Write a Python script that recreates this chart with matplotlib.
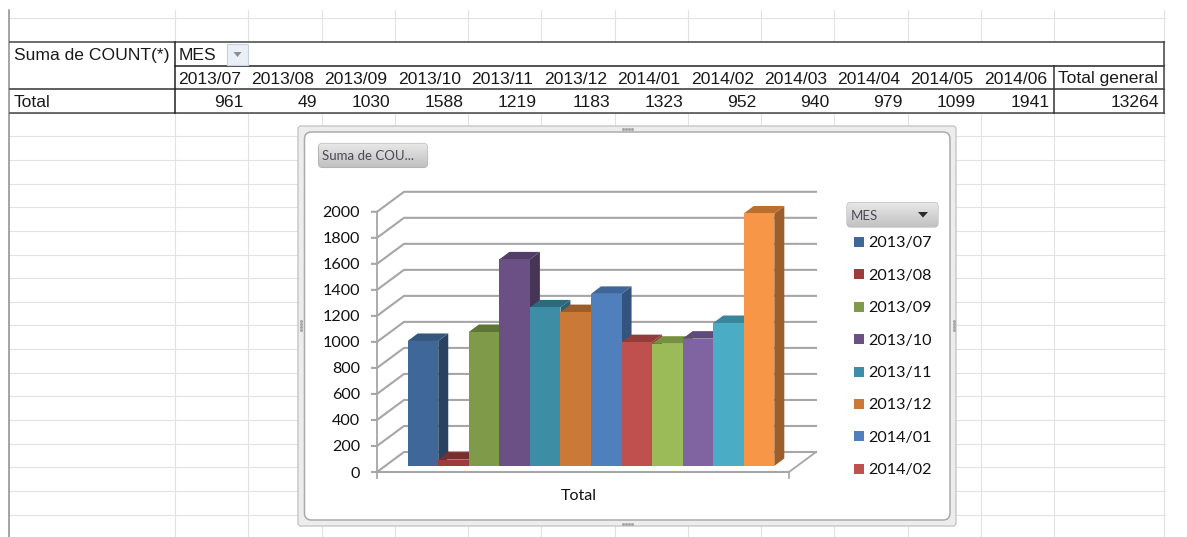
import numpy as np
import matplotlib
matplotlib.use("Agg")
import matplotlib.pyplot as plt
from matplotlib.patches import FancyBboxPatch, Rectangle, Polygon

W, H = 1187, 537

months = ["2013/07", "2013/08", "2013/09", "2013/10", "2013/11", "2013/12",
          "2014/01", "2014/02", "2014/03", "2014/04", "2014/05", "2014/06"]
counts = [961, 49, 1030, 1588, 1219, 1183, 1323, 952, 940, 979, 1099, 1941]
grand_total = 13264
yticks = [0, 200, 400, 600, 800, 1000, 1200, 1400, 1600, 1800, 2000]

front_colors = ["#3F6797", "#9C3D3B", "#7F9A48", "#6A5084", "#3C8DA5", "#CA7A36",
                "#4F7FBD", "#C0504D", "#9BBB59", "#8064A2", "#4BACC6", "#F79646"]
side_colors = ["#2A4261", "#6E2B29", "#586B32", "#453557", "#2A6273", "#8D5526",
               "#33547C", "#863836", "#6C823E", "#594671", "#34778A", "#9C5E2A"]
top_colors = ["#34577F", "#772F2D", "#5F7536", "#523E66", "#2C6A7C", "#9B5D29",
              "#3E669A", "#923D3B", "#76903F", "#5F4B7A", "#39859A", "#B87030"]
legend_count = 8

fig = plt.figure(figsize=(W / 100, H / 100), dpi=100, facecolor="white")

# sheet background works in pixels
bg = fig.add_axes([0, 0, 1, 1])
bg.set_xlim(0, W)
bg.set_ylim(H, 0)
bg.axis("off")

col_x = [175 + 73.25 * i for i in range(13)] + [1163.5]
row_y = [18 + 23.65 * i for i in range(22)]
GRID = "#e2e2e2"
for x in col_x:
    bg.plot([x, x], [10, H], color=GRID, lw=0.8, zorder=1)
for y in row_y:
    bg.plot([9, 1165], [y, y], color=GRID, lw=0.8, zorder=1)
bg.plot([9, 9], [10, H], color="#8c8c8c", lw=1.1, zorder=1)

# pivot table
tab_left, tab_right = 10, 1163.5
tab_y = [42, 66, 89, 113]
bg.add_patch(Rectangle((tab_left, 42), tab_right - tab_left, 71, fc="white", ec="none", zorder=2))
for y, c in zip(tab_y, ["#444444", "#222222", "#333333", "#444444"]):
    x0 = 175 if y == 66 else tab_left
    bg.plot([x0, tab_right], [y, y], color=c, lw=1.1, zorder=3)
bg.plot([175, 175], [42, 113], color="#222222", lw=1.1, zorder=3)
bg.plot([col_x[12], col_x[12]], [66, 113], color="#333333", lw=1.1, zorder=3)
bg.plot([tab_right, tab_right], [42, 113], color="#444444", lw=1.1, zorder=3)

tkw = dict(family="Liberation Sans", fontsize=12.6, color="#1a1a1a", va="center", zorder=4)
bg.text(14, 55.5, "Suma de COUNT(*)", **tkw)
bg.text(179, 55.5, "MES", **tkw)
bg.text(14, 102.5, "Total", **tkw)
for i, (m, c) in enumerate(zip(months, counts)):
    bg.text(col_x[i] + 3, 79, m, **tkw)
    bg.text(col_x[i + 1] - 4.5, 102.5, str(c), ha="right", **tkw)
bg.text(1058, 79, "Total general", **tkw)
bg.text(1159, 102.5, str(grand_total), ha="right", **tkw)
bg.add_patch(Rectangle((227, 44), 21, 21, fc="#EAEFF5", ec="#C8D0DA", lw=0.8, zorder=4))
bg.add_patch(Polygon([(233.5, 52), (241.5, 52), (237.5, 57)], fc="#8a8f96", ec="none", zorder=5))

# chart frame
bg.add_patch(FancyBboxPatch((298, 126), 658, 400, boxstyle="round,pad=0,rounding_size=3",
                            fc="#EDEDED", ec="#C6C6C6", lw=1, zorder=6))
bg.add_patch(FancyBboxPatch((304.5, 132), 645.5, 388, boxstyle="round,pad=0,rounding_size=7",
                            fc="white", ec="#ABABAB", lw=1.1, zorder=7))
for cx, cy in [(627, 128.5), (627, 523.5)]:
    bg.scatter([cx - 4.5, cx - 1.5, cx + 1.5, cx + 4.5], [cy] * 4, s=1.5, color="#A8A8A8", zorder=8)
for cx, cy in [(300.5, 325), (953.5, 325)]:
    bg.scatter([cx] * 4, [cy - 4.5, cy - 1.5, cy + 1.5, cy + 4.5], s=1.5, color="#A8A8A8", zorder=8)


def button(x, y, w, h, label):
    patch = FancyBboxPatch((x, y), w, h, boxstyle="round,pad=0,rounding_size=4",
                           fc="#C8C8C8", ec="#B4B4B4", lw=0.8, zorder=8)
    bg.add_patch(patch)
    grad = np.linspace(0, 1, 32).reshape(-1, 1)
    im = bg.imshow(1 - grad, extent=(x, x + w, y + h, y), cmap="gray", vmin=-5, vmax=1.6,
                   aspect="auto", zorder=8.5)
    im.set_clip_path(patch)
    bg.text(x + 4, y + h / 2 + 1, label, family="Lato", fontsize=9.5, color="#4a4a55",
            va="center", zorder=9)


button(318.5, 143.5, 109, 24, "Suma de COU...")
button(847, 202.5, 91, 24.5, "MES")
bg.add_patch(Polygon([(918, 212), (928, 212), (923, 217.5)], fc="#2b2b2b", ec="none", zorder=9))
bg.set_xlim(0, W)
bg.set_ylim(H, 0)

# legend
for i in range(legend_count):
    ly = 242 + i * 32.4
    bg.add_patch(Rectangle((854, ly - 5), 10, 10, fc=front_colors[i], ec="none", zorder=9))
    bg.text(868.5, ly + 1.5, months[i], family="Lato", fontsize=11.6, color="#111111",
            va="center", zorder=9)

# bar chart, one bar unit = 30.55 px, y scale = 0.1301 px per count
BX, BY = 30.55, 0.1301
left_px, right_px = 407.7, 407.7 + 12 * BX
base_px, top_px = 466.0, 466.0 - 2000 * BY
ax = fig.add_axes([left_px / W, 1 - base_px / H, (right_px - left_px) / W, (base_px - top_px) / H])
ax.patch.set_alpha(0)
ax.axis("off")
ax.set_xlim(-0.5, 11.5)
ax.set_ylim(0, 2000)
ax.set_zorder(bg.get_zorder() + 1)

# wall and floor offsets from the bar plane, px converted to data units
wall_x0 = -0.5 - 30.7 / BX
wall_x1 = -0.5 + (789 - left_px) / BX
front_dy = -6 / BY
depth_dx, depth_dy = 27 / BX, 20 / BY
LINE = "#A6A6A6"
nc = dict(clip_on=False)

ax.fill([wall_x0, wall_x1, wall_x1 + depth_dx, wall_x0 + depth_dx],
        [front_dy, front_dy, front_dy + depth_dy, front_dy + depth_dy],
        fc="white", ec="none", zorder=1, **nc)
for v in yticks:
    yf = v + front_dy
    ax.plot([wall_x0 - 5 / BX, wall_x0, wall_x0 + depth_dx, wall_x1 + depth_dx],
            [yf, yf, yf + depth_dy, yf + depth_dy], color=LINE, lw=1.5, zorder=2, **nc)
    ax.text(wall_x0 - 17 / BX, yf - 1.5 / BY, str(v), ha="right", va="center", family="Lato",
            fontsize=11.6, color="#111111", **nc)
ax.plot([wall_x0, wall_x0], [front_dy - 6 / BY, 2000 + front_dy], color=LINE, lw=1.3, zorder=2, **nc)
ax.plot([wall_x0, wall_x1], [front_dy, front_dy], color=LINE, lw=1.5, zorder=3, **nc)
ax.plot([wall_x1, wall_x1], [front_dy - 6 / BY, front_dy], color=LINE, lw=1.2, zorder=3, **nc)
ax.plot([wall_x1, wall_x1 + depth_dx], [front_dy, front_dy + depth_dy], color=LINE, lw=1.3, zorder=3, **nc)

bar_dx, bar_dy = 10 / BX, 7.5 / BY
for i, v in enumerate(counts):
    z = 5 + i
    xl, xr = i - 0.5, i + 0.5
    ax.fill([xr, xr + bar_dx, xr + bar_dx, xr], [0, bar_dy, v + bar_dy, v],
            fc=side_colors[i], ec="none", zorder=z, **nc)
    ax.fill([xl, xr, xr + bar_dx, xl + bar_dx], [v, v, v + bar_dy, v + bar_dy],
            fc=top_colors[i], ec="none", zorder=z, **nc)
    ax.bar(i, v, width=1.0, color=front_colors[i], zorder=z + 0.5, **nc)

ax.text(5.1, -30 / BY, "Total", ha="center", va="center", family="Lato",
        fontsize=11.6, color="#111111", **nc)

fig.savefig("out.png", dpi=100)
